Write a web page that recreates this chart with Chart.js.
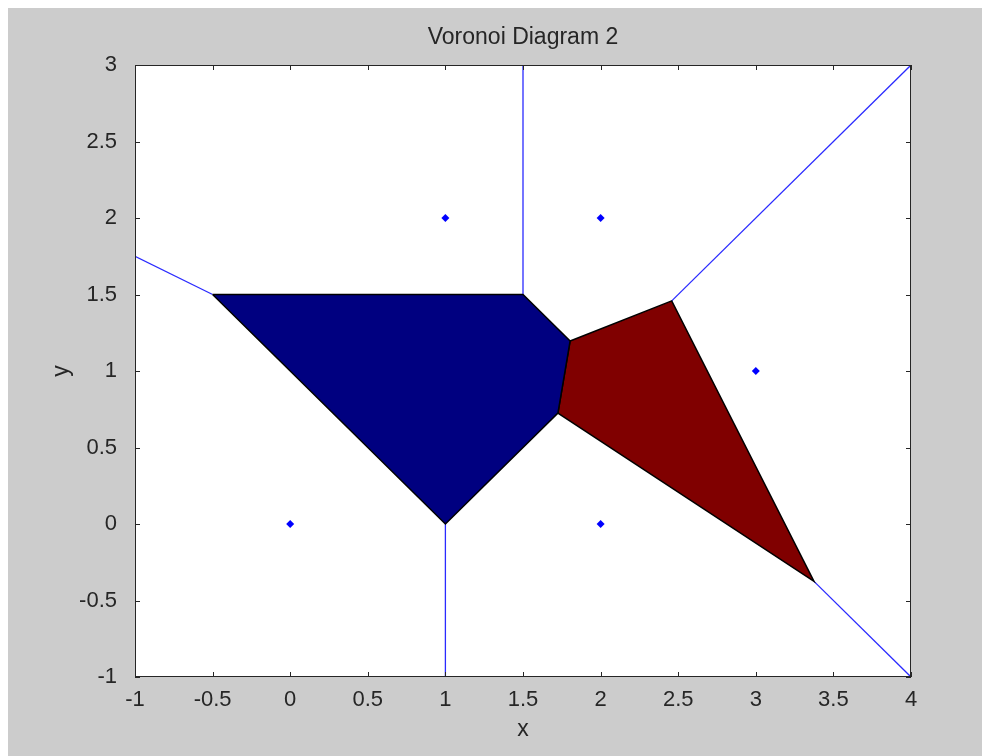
<!DOCTYPE html>
<html lang="en">
<head>
    <meta charset="UTF-8">
    <title>Voronoi Diagram 2</title>
    <script src="https://cdn.jsdelivr.net/npm/chart.js"></script>
    <style>
        body {
            margin: 0;
            background: #ffffff;
        }
        #wrap {
            position: absolute;
            left: 8px;
            top: 8px;
            width: 974px;
            height: 748px;
            background: #cccccc;
        }
    </style>
</head>
<body>

<div id="wrap">
    <canvas id="voronoiChart" width="974" height="748"></canvas>
</div>

<script>
    // sites of the diagram (the visible blue dots)
    const sitesX = [0, 1, 2, 2, 3];
    const sitesY = [0, 2, 2, 0, 1];

    // filled cells
    const blueCellX = [-0.5, 1.5, 1.8036, 1.725, 1];
    const blueCellY = [1.5, 1.5, 1.1964, 0.725, 0];
    const redCellX = [1.8036, 2.4583, 3.375, 1.725];
    const redCellY = [1.1964, 1.4583, -0.375, 0.725];

    // remaining ridges (one pair of ends each)
    const ridgeX = [[-1, -0.5], [1.5, 1.5], [2.4583, 4], [3.375, 4], [1, 1]];
    const ridgeY = [[1.75, 1.5], [1.5, 3], [1.4583, 3], [-0.375, -1], [0, -1]];

    const xTicks = [-1, -0.5, 0, 0.5, 1, 1.5, 2, 2.5, 3, 3.5, 4];
    const xTickLabels = ['-1', '-0.5', '0', '0.5', '1', '1.5', '2', '2.5', '3', '3.5', '4'];
    const yTicks = [-1, -0.5, 0, 0.5, 1, 1.5, 2, 2.5, 3];
    const yTickLabels = ['-1', '-0.5', '0', '0.5', '1', '1.5', '2', '2.5', '3'];

    const textColor = '#262626';
    const fontFamily = '"Liberation Sans", Arial, sans-serif';

    function toPoints(xs, ys, close) {
        const pts = xs.map((x, i) => ({ x: x, y: ys[i] }));
        if (close) pts.push({ x: xs[0], y: ys[0] });
        return pts;
    }

    const datasets = [];

    datasets.push({
        label: 'sites',
        data: toPoints(sitesX, sitesY, false),
        showLine: false,
        pointStyle: 'rectRot',
        pointRadius: 4,
        pointBackgroundColor: '#0000ff',
        pointBorderColor: '#0000ff',
        pointBorderWidth: 0,
        order: 0
    });

    datasets.push({
        label: 'cell 1',
        data: toPoints(blueCellX, blueCellY, true),
        showLine: true,
        fill: 'shape',
        backgroundColor: '#000080',
        borderColor: '#000000',
        borderWidth: 1.5,
        pointRadius: 0,
        tension: 0,
        order: 1
    });

    datasets.push({
        label: 'cell 2',
        data: toPoints(redCellX, redCellY, true),
        showLine: true,
        fill: 'shape',
        backgroundColor: '#800000',
        borderColor: '#000000',
        borderWidth: 1.5,
        pointRadius: 0,
        tension: 0,
        order: 1
    });

    ridgeX.forEach((xs, i) => {
        datasets.push({
            label: 'ridge ' + (i + 1),
            data: toPoints(xs, ridgeY[i], false),
            showLine: true,
            fill: false,
            borderColor: '#2a2aff',
            borderWidth: 1.3,
            pointRadius: 0,
            tension: 0,
            order: 2
        });
    });

    // white axes background, box and inward ticks like the original figure
    const axesBox = {
        id: 'axesBox',
        beforeDatasetsDraw(chart) {
            const a = chart.chartArea;
            const ctx = chart.ctx;
            ctx.save();
            ctx.fillStyle = '#ffffff';
            ctx.fillRect(a.left, a.top, a.right - a.left, a.bottom - a.top);
            ctx.restore();
        },
        afterDatasetsDraw(chart) {
            const a = chart.chartArea;
            const ctx = chart.ctx;
            const xs = chart.scales.x;
            const ys = chart.scales.y;
            const len = 5;
            ctx.save();
            ctx.strokeStyle = textColor;
            ctx.lineWidth = 1;
            ctx.beginPath();
            xTicks.forEach(v => {
                const px = Math.round(xs.getPixelForValue(v)) + 0.5;
                ctx.moveTo(px, a.bottom);
                ctx.lineTo(px, a.bottom - len);
                ctx.moveTo(px, a.top);
                ctx.lineTo(px, a.top + len);
            });
            yTicks.forEach(v => {
                const py = Math.round(ys.getPixelForValue(v)) + 0.5;
                ctx.moveTo(a.left, py);
                ctx.lineTo(a.left + len, py);
                ctx.moveTo(a.right, py);
                ctx.lineTo(a.right - len, py);
            });
            ctx.stroke();
            ctx.strokeRect(a.left + 0.5, a.top + 0.5, a.right - a.left - 1, a.bottom - a.top - 1);
            ctx.restore();
        }
    };

    const ctx = document.getElementById('voronoiChart').getContext('2d');
    const chart = new Chart(ctx, {
        type: 'scatter',
        data: { datasets: datasets },
        plugins: [axesBox],
        options: {
            responsive: false,
            animation: false,
            devicePixelRatio: 1,
            layout: {
                padding: { left: 40, right: 71, top: 0, bottom: 13 }
            },
            plugins: {
                legend: { display: false },
                tooltip: { enabled: false },
                title: {
                    display: true,
                    text: 'Voronoi Diagram 2',
                    fullSize: false,
                    color: textColor,
                    font: { family: fontFamily, size: 23, weight: 'normal', lineHeight: 1.2 },
                    padding: { top: 16, bottom: 13.4 }
                }
            },
            scales: {
                x: {
                    type: 'linear',
                    min: -1,
                    max: 4,
                    afterBuildTicks: s => { s.ticks = xTicks.map(v => ({ value: v })); },
                    afterFit: s => { s.height = 66; },
                    grid: { display: false },
                    border: { display: false },
                    ticks: {
                        color: textColor,
                        padding: 2,
                        maxRotation: 0,
                        autoSkip: false,
                        font: { family: fontFamily, size: 22 },
                        callback: (v, i) => xTickLabels[i]
                    },
                    title: {
                        display: true,
                        text: 'x',
                        color: textColor,
                        font: { family: fontFamily, size: 23, lineHeight: 1.2 },
                        padding: { top: 0, bottom: 0 }
                    }
                },
                y: {
                    type: 'linear',
                    min: -1,
                    max: 3,
                    afterBuildTicks: s => { s.ticks = yTicks.map(v => ({ value: v })); },
                    afterFit: s => { s.width = 87; },
                    grid: { display: false },
                    border: { display: false },
                    ticks: {
                        color: textColor,
                        padding: 10,
                        autoSkip: false,
                        font: { family: fontFamily, size: 22 },
                        callback: (v, i) => yTickLabels[i]
                    },
                    title: {
                        display: true,
                        text: 'y',
                        color: textColor,
                        font: { family: fontFamily, size: 23, lineHeight: 1.2 },
                        padding: { top: 0, bottom: 0 }
                    }
                }
            }
        }
    });
</script>
</body>
</html>
